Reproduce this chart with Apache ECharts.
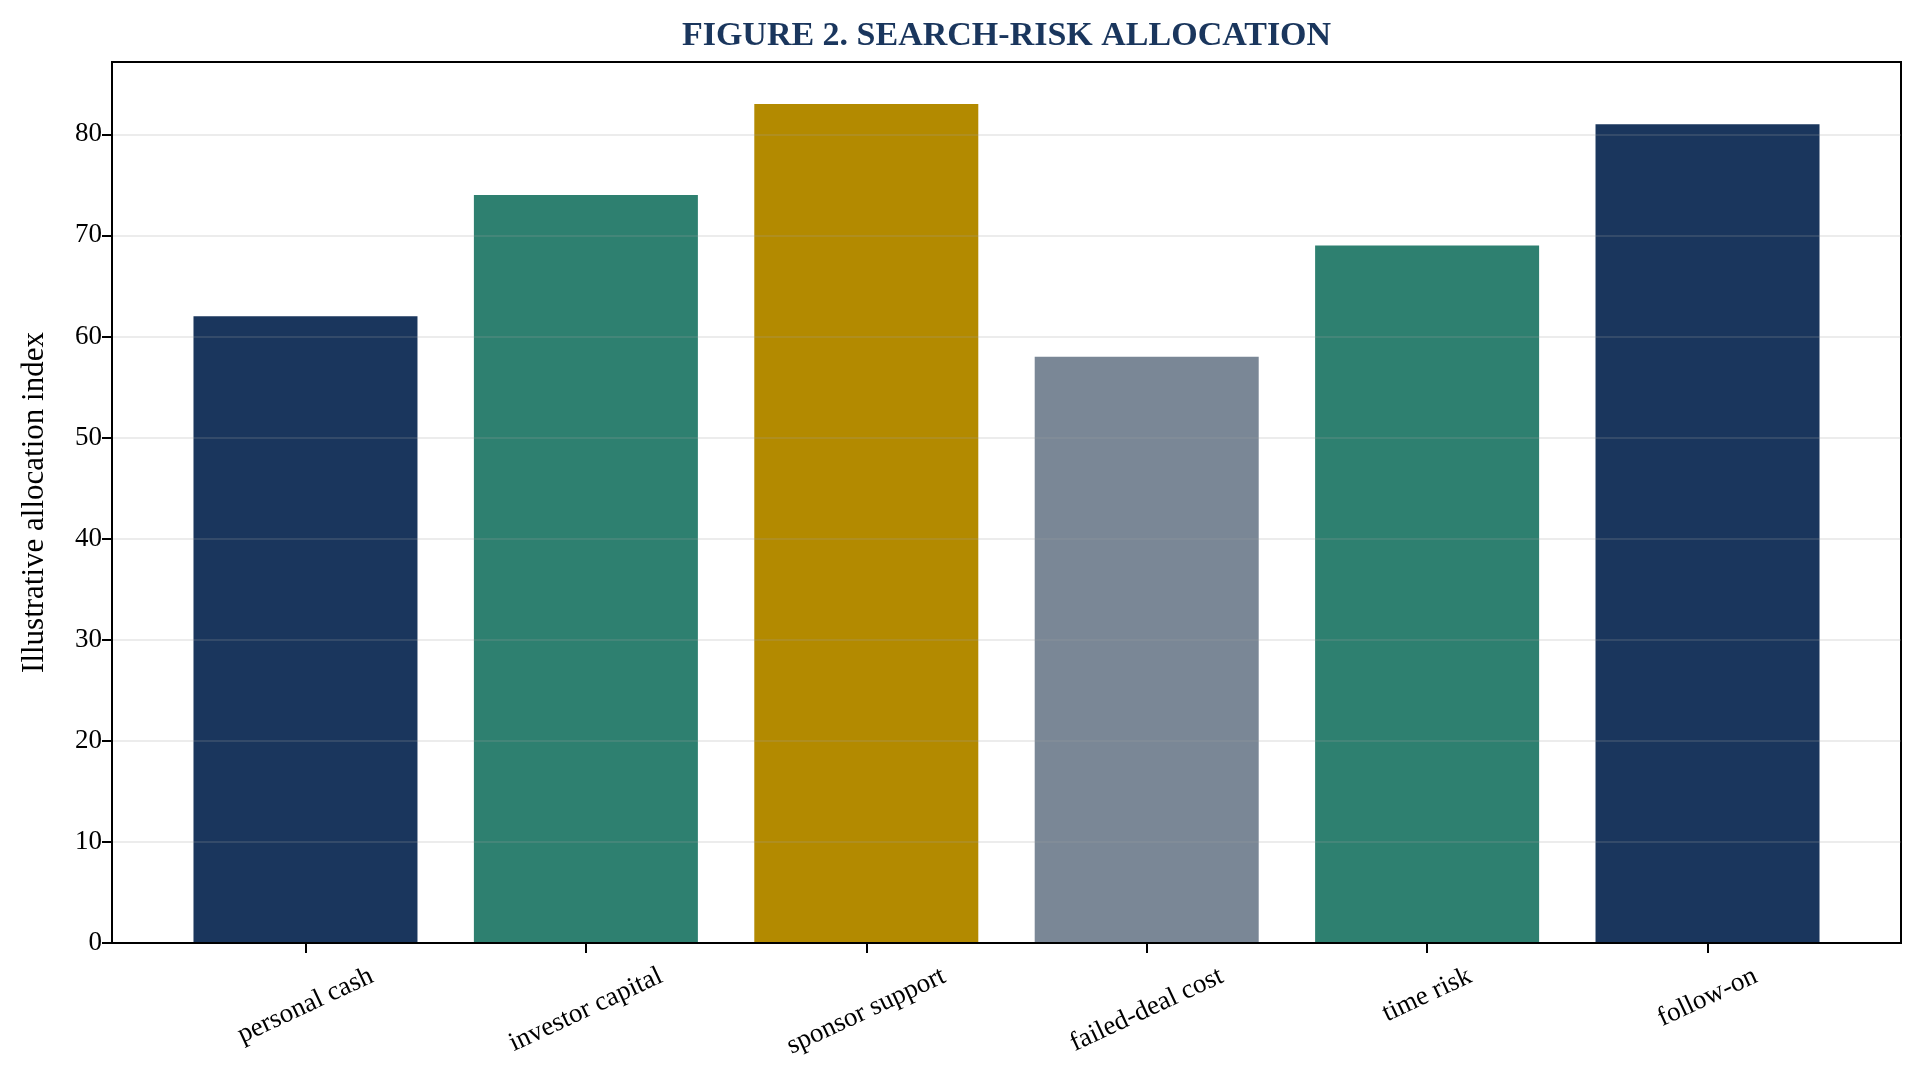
<!DOCTYPE html>
<html>
<head>
<meta charset="utf-8">
<script src="https://cdn.jsdelivr.net/npm/echarts@6/dist/echarts.min.js"></script>
<style>
html,body{margin:0;padding:0;background:#fff;}
#chart{width:1924px;height:1077px;}
</style>
</head>
<body>
<div id="chart"></div>
<script>
const categories = ['personal cash', 'investor capital', 'sponsor support', 'failed-deal cost', 'time risk', 'follow-on'];
const values = [62, 74, 83, 58, 69, 81];
const yTicks = [0, 10, 20, 30, 40, 50, 60, 70, 80];
const barColors = ['#1a365d', '#2e8070', '#b38a00', '#7a8796', '#2e8070', '#1a365d'];
const titleText = 'FIGURE 2. SEARCH-RISK ALLOCATION';

const FONT = "'Liberation Serif', 'DejaVu Serif', serif";
const LABEL_SIZE = 27;
const TITLE_SIZE = 34;
const ROT = 25;
const GRID = {left: 112, right: 23, top: 62, bottom: 134};
const W = 1924;

// per-label padding so rotated labels are centred under the tick like matplotlib
const ctx = document.createElement('canvas').getContext('2d');
ctx.font = LABEL_SIZE + 'px ' + FONT;
const widths = categories.map(c => ctx.measureText(c).width);
const wmin = Math.min(...widths);
const th = ROT * Math.PI / 180;
const rich = {};
categories.forEach((c, i) => {
  const d = (widths[i] - wmin) / 2 * Math.sin(th);
  rich['l' + i] = {
    fontFamily: FONT, fontSize: LABEL_SIZE, color: '#000',
    padding: [2 * d * Math.cos(th), 2 * d * Math.sin(th), 0, 0]
  };
});
ctx.font = 'bold ' + TITLE_SIZE + 'px ' + FONT;
const titleW = ctx.measureText(titleText).width;
const plotCenter = GRID.left + (W - GRID.left - GRID.right) / 2;

const idx = categories.map((c, i) => i);
const n = categories.length;
const pad = 0.4 + 0.05 * (n - 1 + 0.8);

const chart = echarts.init(document.getElementById('chart'), null, {renderer: 'canvas'});
chart.setOption({
  backgroundColor: '#fff',
  animation: false,
  title: {
    text: titleText,
    left: plotCenter - titleW / 2,
    top: 19,
    padding: 0,
    textStyle: {fontFamily: FONT, fontSize: TITLE_SIZE, fontWeight: 'bold', color: '#1a365d'}
  },
  grid: Object.assign({
    show: true, borderColor: '#000', borderWidth: 2, backgroundColor: 'transparent'
  }, GRID),
  xAxis: {
    type: 'value',
    min: -pad,
    max: n - 1 + pad,
    z: 3,
    axisLine: {show: true, onZero: false, lineStyle: {color: '#000', width: 2}},
    axisTick: {show: true, customValues: idx, length: 10, lineStyle: {color: '#000', width: 2}},
    splitLine: {show: false},
    axisLabel: {
      customValues: idx,
      rotate: ROT,
      align: 'center',
      verticalAlign: 'middle',
      margin: 52,
      formatter: v => {
        const i = Math.round(v);
        return '{l' + i + '|' + categories[i] + '}';
      },
      rich: rich,
      fontFamily: FONT, fontSize: LABEL_SIZE, color: '#000'
    }
  },
  yAxis: {
    type: 'value',
    min: 0,
    max: Math.max(...values) * 1.05,
    interval: 10,
    z: 3,
    name: 'Illustrative allocation index',
    nameLocation: 'middle',
    nameGap: 62,
    nameTextStyle: {fontFamily: FONT, fontSize: 31, color: '#000'},
    axisLine: {show: true, onZero: false, lineStyle: {color: '#000', width: 2}},
    axisTick: {show: true, customValues: yTicks, length: 10, lineStyle: {color: '#000', width: 2}},
    axisLabel: {customValues: yTicks, margin: 10, fontFamily: FONT, fontSize: LABEL_SIZE, color: '#000'},
    splitLine: {show: true, lineStyle: {color: 'rgba(160,160,160,0.2)', width: 2}}
  },
  series: [{
    type: 'bar',
    barWidth: 224,
    z: 2,
    data: values.map((v, i) => ({value: [i, v], itemStyle: {color: barColors[i]}}))
  }]
});
</script>
</body>
</html>
